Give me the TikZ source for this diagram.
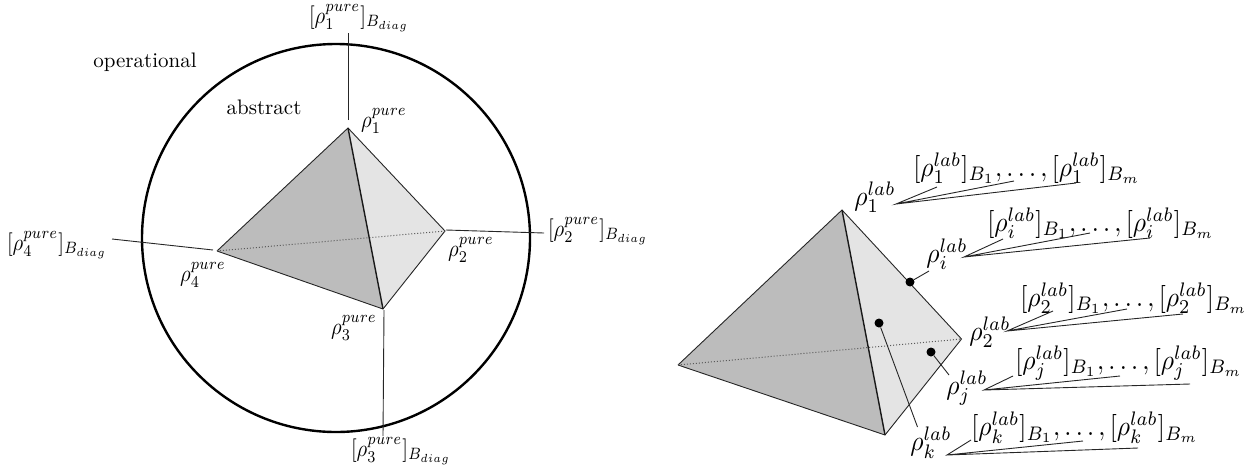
\documentclass[tikz,border=0pt]{standalone}
\definecolor{faceD}{HTML}{BCBCBC}
\definecolor{faceL}{HTML}{E4E4E4}
\tikzset{
 lbl/.style={inner sep=0pt,scale=2.1},
 mathlbl/.style={inner sep=0pt,xscale=2.05,yscale=2.35},
 fanlbl/.style={inner sep=0pt,xscale=2.55,yscale=2.8},
 single/.style={inner sep=0pt,xscale=2.55,yscale=2.8},
 tedge/.style={line width=0.9pt,draw=black!85},
 front/.style={line width=1.4pt,draw=black!90},
 hidden/.style={line width=1pt,dotted,draw=black!65},
 leader/.style={line width=0.9pt,draw=black!85},
 dotpt/.style={circle,fill=black,inner sep=0pt,minimum size=9pt},
 darkface/.style={fill=faceD},
 lightface/.style={fill=faceL},
}
\begin{document}
\begin{tikzpicture}[x=1pt,y=-1pt]
\useasboundingbox (0,0) rectangle (1260,466);
% left
\node[draw,circle,line width=2.4pt,minimum size=388pt,inner sep=0pt] (ring) at (336,238) {};
\coordinate (T) at (348,128); \coordinate (R) at (445,231);
\coordinate (B) at (383,309); \coordinate (L) at (217,251);
\fill[lightface] (T)--(R)--(B)--cycle;
\fill[darkface] (T)--(B)--(L)--cycle;
\draw[tedge] (L)--(T)--(R)--(B)--(L);
\draw[hidden] (L)--(R);
\draw[front] (T)--(B);
\coordinate (T1) at (348.5,120); \coordinate (T2) at (348.5,33);
\coordinate (R1) at (446,230); \coordinate (R2) at (544,233);
\coordinate (B1) at (384,310); \coordinate (B2) at (383,436);
\coordinate (L1) at (213,250); \coordinate (L2) at (112,239);
\draw[leader] (T1)--(T2); \draw[leader] (R1)--(R2);
\draw[leader] (B1)--(B2); \draw[leader] (L1)--(L2);
\node[lbl] (op) at (145,62) {operational};
\node[lbl] (ab) at (264,107) {abstract};
\node[mathlbl] (p1) at (384,121) {$\rho_1^{pure}$};
\node[mathlbl] (p2) at (471,250) {$\rho_2^{pure}$};
\node[mathlbl] (p3) at (354,328) {$\rho_3^{pure}$};
\node[mathlbl] (p4) at (203,275) {$\rho_4^{pure}$};
\node[mathlbl] (q1) at (359,18) {$[\rho_1^{pure}]_{B_{diag}}$};
\node[mathlbl] (q2) at (598,231) {$[\rho_2^{pure}]_{B_{diag}}$};
\node[mathlbl] (q3) at (401,451) {$[\rho_3^{pure}]_{B_{diag}}$};
\node[mathlbl] (q4) at (57,245) {$[\rho_4^{pure}]_{B_{diag}}$};
% right
\coordinate (t) at (842,210); \coordinate (r) at (961.5,339);
\coordinate (b) at (885,435); \coordinate (l) at (678,365);
\fill[lightface] (t)--(r)--(b)--cycle;
\fill[darkface] (t)--(b)--(l)--cycle;
\draw[tedge] (l)--(t)--(r)--(b)--(l);
\draw[hidden] (l)--(r);
\draw[front] (t)--(b);
\node[dotpt] (di) at (910,282) {};
\node[dotpt] (dk) at (879,323) {};
\node[dotpt] (dj) at (931,352) {};
\coordinate (ei) at (929,271); \coordinate (ek) at (917.5,427); \coordinate (ej) at (949,375);
\draw[leader] (di)--(ei); \draw[leader] (dk)--(ek); \draw[leader] (dj)--(ej);
\node[single] (s1) at (875,197) {$\rho_1^{lab}$};
\node[single] (si) at (947,254) {$\rho_i^{lab}$};
\node[single] (s2) at (990,332) {$\rho_2^{lab}$};
\node[single] (sj) at (967,388) {$\rho_j^{lab}$};
\node[single] (sk) at (931,443) {$\rho_k^{lab}$};
\node[fanlbl] (f1) at (1027,168) {$[\rho_1^{lab}]_{B_1},\ldots,[\rho_1^{lab}]_{B_m}$};
\node[fanlbl] (fi) at (1101,223) {$[\rho_i^{lab}]_{B_1},\ldots,[\rho_i^{lab}]_{B_m}$};
\node[fanlbl] (f2) at (1134,298) {$[\rho_2^{lab}]_{B_1},\ldots,[\rho_2^{lab}]_{B_m}$};
\node[fanlbl] (fj) at (1129,363) {$[\rho_j^{lab}]_{B_1},\ldots,[\rho_j^{lab}]_{B_m}$};
\node[fanlbl] (fk) at (1085,428) {$[\rho_k^{lab}]_{B_1},\ldots,[\rho_k^{lab}]_{B_m}$};
\coordinate (a1) at (896,204); \coordinate (a1a) at (937,187); \coordinate (a1b) at (1014,181); \coordinate (a1c) at (1076,183);
\coordinate (a2) at (964,257); \coordinate (a2a) at (1003,239); \coordinate (a2b) at (1090,233); \coordinate (a2c) at (1150,238);
\coordinate (a3) at (1007,331); \coordinate (a3a) at (1053,311); \coordinate (a3b) at (1127,309); \coordinate (a3c) at (1183,314);
\coordinate (a4) at (984,390); \coordinate (a4a) at (1013,376); \coordinate (a4b) at (1120,376); \coordinate (a4c) at (1190,384);
\coordinate (a5) at (947,455); \coordinate (a5a) at (971,440); \coordinate (a5b) at (1083,441); \coordinate (a5c) at (1138,448);
\draw[leader] (a1a)--(a1)--(a1b) (a1)--(a1c);
\draw[leader] (a2a)--(a2)--(a2b) (a2)--(a2c);
\draw[leader] (a3a)--(a3)--(a3b) (a3)--(a3c);
\draw[leader] (a4a)--(a4)--(a4b) (a4)--(a4c);
\draw[leader] (a5a)--(a5)--(a5b) (a5)--(a5c);
\end{tikzpicture}
\end{document}
